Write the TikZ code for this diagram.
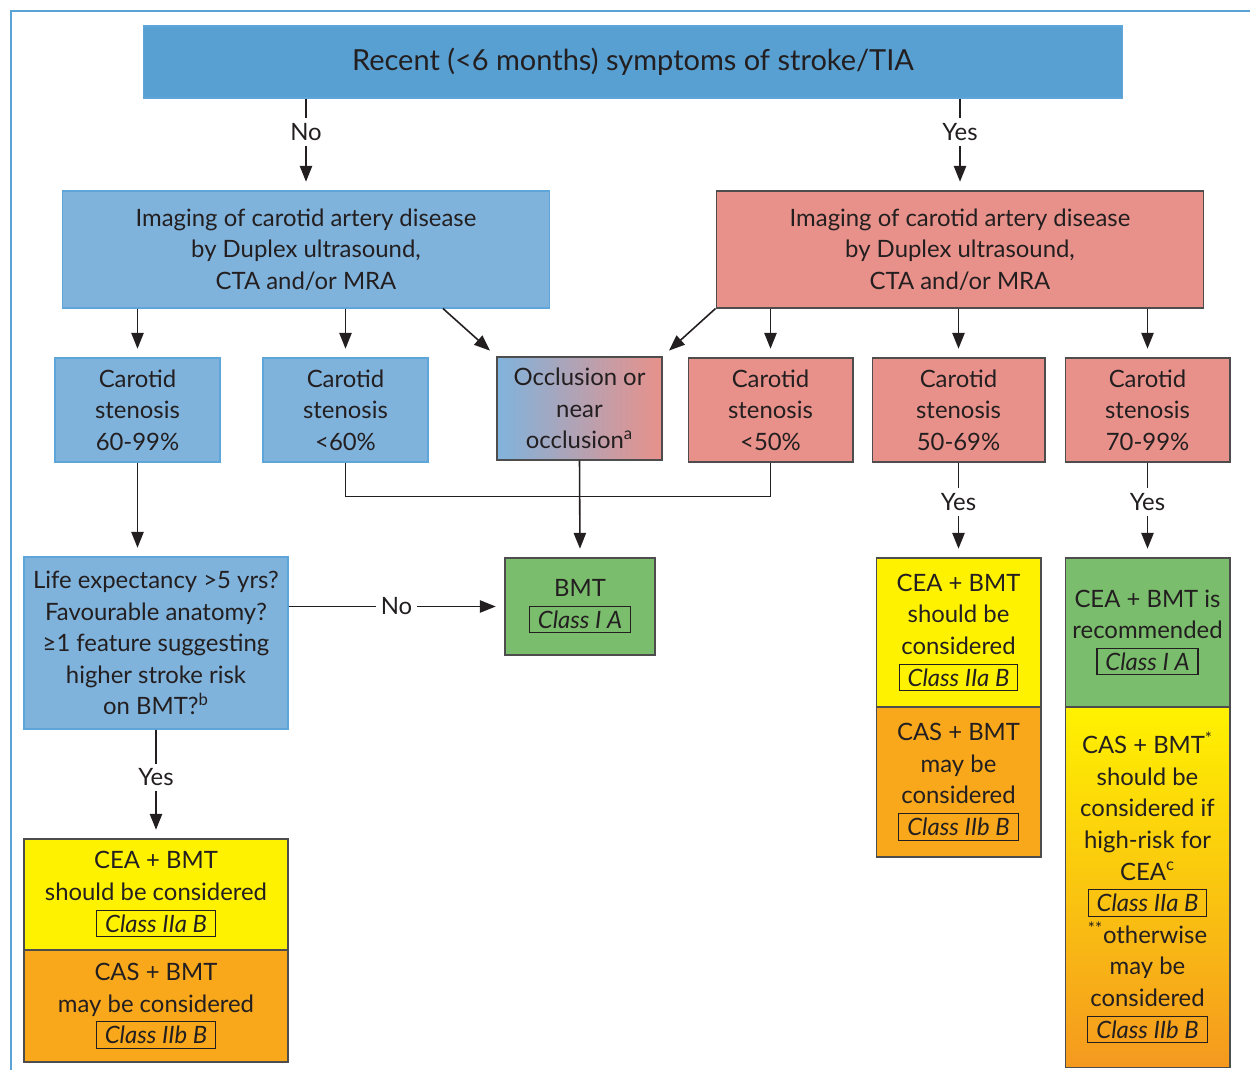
\documentclass[tikz,border=0pt]{standalone}
\usepackage{fontspec}
\setmainfont{Lato}
\usetikzlibrary{arrows.meta,calc}

\definecolor{frameblue}{HTML}{5BA3D5}
\definecolor{titleblue}{HTML}{59A0D2}
\definecolor{lightblue}{HTML}{80B3DC}
\definecolor{edgeblue}{HTML}{5EA6DA}
\definecolor{salmon}{HTML}{E8918A}
\definecolor{edgegray}{HTML}{4D4D4D}
\definecolor{leafgreen}{HTML}{7ABD6C}
\definecolor{lemon}{HTML}{FFF200}
\definecolor{amber}{HTML}{F9A81B}
\definecolor{amberdark}{HTML}{F5991F}
\definecolor{ink}{HTML}{231F20}

\setlength{\fboxsep}{2.2pt}
\setlength{\fboxrule}{0.6pt}
\newcommand{\cls}[1]{\fbox{\itshape\,#1\,}}

\tikzset{
  box/.style={draw=edgegray, line width=0.6pt, inner sep=0pt, align=center, text=ink,
    font=\fontsize{13.6}{18}\selectfont},
  bluebox/.style={box, fill=lightblue, draw=edgeblue},
  redbox/.style={box, fill=salmon},
  greenbox/.style={box, fill=leafgreen},
  yellowbox/.style={box, fill=lemon},
  orangebox/.style={box, fill=amber},
  arr/.style={-{Triangle[length=9pt,width=7pt]}, line width=0.9pt, ink, shorten >=5pt},
  lbl/.style={fill=white, inner sep=3pt, text=ink, font=\fontsize{13.6}{18}\selectfont},
}

\begin{document}
\begin{tikzpicture}[x=0.02cm, y=-0.02cm]

    \useasboundingbox (0,0) rectangle (1250,1070);
    \draw[frameblue, line width=1.6pt] (11,1070) -- (11,11) -- (1250,11);

    % top
    \node[box, fill=titleblue, draw=edgeblue, minimum width=19.6cm, minimum height=1.44cm,
      font=\fontsize{16.5}{18}\selectfont] (title) at (633,62)
      {Recent (<6 months) symptoms of stroke/TIA};

    \node[bluebox, minimum width=9.76cm, minimum height=2.34cm] (imgL) at (306,249.5)
      {Imaging of carotid artery disease\\by Duplex ultrasound,\\CTA and/or MRA};
    \node[redbox, minimum width=9.76cm, minimum height=2.34cm] (imgR) at (960,249.5)
      {Imaging of carotid artery disease\\by Duplex ultrasound,\\CTA and/or MRA};

    \draw[arr] (title.south -| imgL.north) -- (imgL.north) node[lbl, pos=0.36] {No};
    \draw[arr] (title.south -| imgR.north) -- (imgR.north) node[lbl, pos=0.36] {Yes};

    % stenosis row
    \node[bluebox, minimum width=3.3cm, minimum height=2.08cm] (s6099) at (137.5,410)
      {Carotid\\stenosis\\60-99\%};
    \node[bluebox, minimum width=3.3cm, minimum height=2.08cm] (s60) at (345.5,410)
      {Carotid\\stenosis\\<60\%};
    \node[box, left color=lightblue, right color=salmon, minimum width=3.3cm,
      minimum height=2.06cm] (occl) at (579.5,408.5)
      {Occlusion or\\near\\occlusion\textsuperscript{a}};
    \node[redbox, minimum width=3.3cm, minimum height=2.08cm] (s50) at (770.5,410)
      {Carotid\\stenosis\\<50\%};
    \node[redbox, minimum width=3.46cm, minimum height=2.08cm] (s5069) at (958.5,410)
      {Carotid\\stenosis\\50-69\%};
    \node[redbox, minimum width=3.3cm, minimum height=2.08cm] (s7099) at (1147.5,410)
      {Carotid\\stenosis\\70-99\%};

    \draw[arr] (imgL.south -| s6099.north) -- (s6099.north);
    \draw[arr] (imgL.south -| s60.north) -- (s60.north);
    \draw[arr] ([xshift=2.74cm]imgL.south) -- (occl.north west);
    \draw[arr] (imgR.south west) -- (occl.north east);
    \draw[arr] (imgR.south -| s50.north) -- (s50.north);
    \draw[arr] (imgR.south -| s5069.north) -- (s5069.north);
    \draw[arr] (imgR.south -| s7099.north) -- (s7099.north);

    % treatments
    \node[greenbox, minimum width=3cm, minimum height=1.94cm] (bmt) at (580,606.5)
      {BMT\\\cls{Class I A}};
    \node[bluebox, minimum width=5.28cm, minimum height=3.44cm] (life) at (156,643)
      {Life expectancy >5 yrs?\\Favourable anatomy?\\≥1 feature suggesting\\higher stroke risk\\on BMT?\textsuperscript{b}};
    \node[yellowbox, minimum width=5.28cm, minimum height=2.22cm] (ceaL) at (156,894.5)
      {CEA + BMT\\should be considered\\\cls{Class IIa B}};
    \node[orangebox, minimum width=5.28cm, minimum height=2.24cm] (casL) at (156,1006)
      {CAS + BMT\\may be considered\\\cls{Class IIb B}};

    \node[yellowbox, minimum width=3.3cm, minimum height=2.98cm] (ceaM) at (958.5,632.5)
      {CEA + BMT\\should be\\considered\\\cls{Class IIa B}};
    \node[orangebox, minimum width=3.3cm, minimum height=3cm] (casM) at (958.5,782)
      {CAS + BMT\\may be\\considered\\\cls{Class IIb B}};

    \node[greenbox, minimum width=3.3cm, minimum height=2.98cm] (ceaR) at (1147.5,632.5)
      {CEA + BMT is\\recommended\\\cls{Class I A}};
    \node[box, top color=lemon, bottom color=amberdark, minimum width=3.3cm,
      minimum height=7.22cm] (casR) at (1147.5,887.5)
      {CAS + BMT\textsuperscript{*}\\should be\\considered if\\high-risk for\\CEA\textsuperscript{c}\\\cls{Class IIa B}\\\textsuperscript{**}otherwise\\may be\\considered\\\cls{Class IIb B}};

    \draw[ink, line width=0.6pt] (s60.south) -- ++(0,34) -| (s50.south);
    \draw[arr] (occl.south) -- (bmt.north);
    \draw[arr] (s6099.south) -- (s6099.south |- life.north);
    \draw[arr] (life.east |- bmt.west) -- (bmt.west) node[lbl, midway] {No};
    \draw[arr] (life.south) -- (ceaL.north) node[lbl, pos=0.44] {Yes};
    \draw[arr] (s5069.south) -- (ceaM.north) node[lbl, pos=0.42] {Yes};
    \draw[arr] (s7099.south) -- (ceaR.north) node[lbl, pos=0.42] {Yes};

\end{tikzpicture}
\end{document}
